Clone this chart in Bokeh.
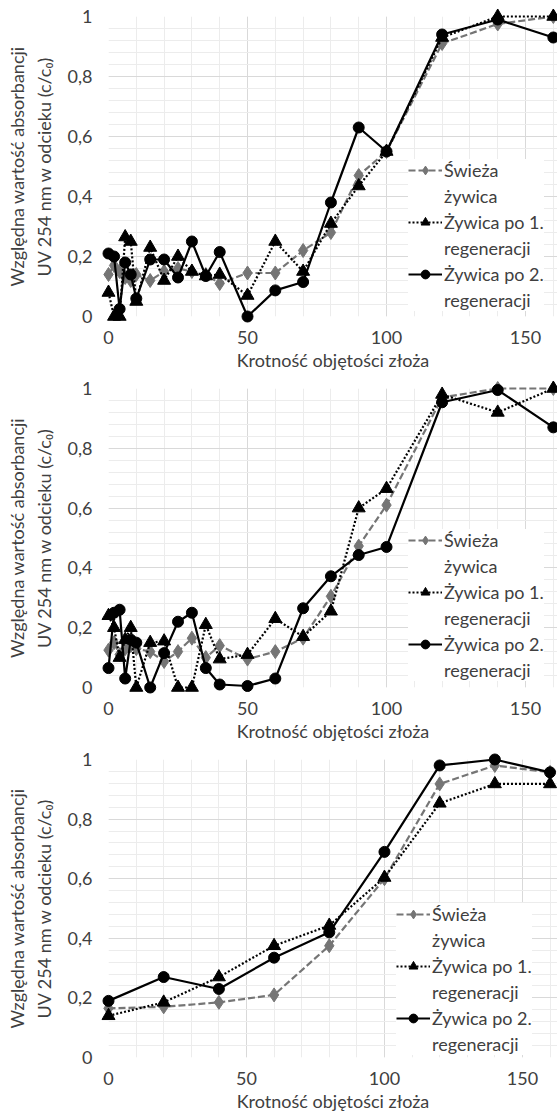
from bokeh.plotting import figure
from bokeh.layouts import column
from bokeh.models import (Range1d, FixedTicker, CustomJSTickFormatter, Legend, LegendItem)
from bokeh.embed import file_html
from bokeh.resources import INLINE

# ---------------- data ----------------
x_runs = [0, 2, 4, 6, 8, 10, 15, 20, 25, 30, 35, 40, 50, 60, 70, 80, 90, 100, 120, 140, 160]

fresh_1 = [0.14, 0.17, 0.15, 0.13, 0.12, 0.14, 0.12, 0.15, 0.16, 0.15, 0.14, 0.11, 0.145, 0.145, 0.22, 0.28, 0.47, 0.55, 0.91, 0.975, 1.0]
regen1_1 = [0.08, 0.0, 0.0, 0.265, 0.25, 0.05, 0.23, 0.12, 0.20, 0.15, 0.135, 0.14, 0.07, 0.25, 0.15, 0.31, 0.435, 0.55, 0.93, 1.0, 1.0]
regen2_1 = [0.21, 0.20, 0.025, 0.18, 0.14, 0.06, 0.19, 0.19, 0.13, 0.25, 0.135, 0.215, 0.0, 0.087, 0.115, 0.38, 0.63, 0.55, 0.94, 0.99, 0.93]

fresh_2 = [0.125, 0.15, 0.11, 0.13, 0.14, 0.13, 0.12, 0.087, 0.12, 0.165, 0.10, 0.14, 0.095, 0.12, 0.165, 0.305, 0.473, 0.61, 0.97, 1.0, 1.0]
regen1_2 = [0.24, 0.20, 0.10, 0.16, 0.20, 0.0, 0.15, 0.155, 0.0, 0.0, 0.21, 0.095, 0.11, 0.23, 0.17, 0.255, 0.60, 0.665, 0.98, 0.92, 1.0]
regen2_2 = [0.065, 0.25, 0.26, 0.03, 0.16, 0.15, 0.0, 0.115, 0.22, 0.25, 0.065, 0.01, 0.005, 0.03, 0.265, 0.372, 0.443, 0.47, 0.954, 0.995, 0.87]

x_runs_3 = [0, 20, 40, 60, 80, 100, 120, 140, 160]
fresh_3 = [0.165, 0.17, 0.185, 0.21, 0.375, 0.60, 0.918, 0.98, 0.957]
regen1_3 = [0.14, 0.185, 0.27, 0.375, 0.443, 0.604, 0.853, 0.918, 0.918]
regen2_3 = [0.19, 0.27, 0.23, 0.335, 0.42, 0.69, 0.98, 1.0, 0.957]

x_ticks = [0, 50, 100, 150]
x_minor = [0, 10, 20, 30, 40, 50, 60, 70, 80, 90, 100, 110, 120, 130, 140, 150, 160]
y_ticks = [0, 0.2, 0.4, 0.6, 0.8, 1.0]
y_minor = [0, 0.04, 0.08, 0.12, 0.16, 0.2, 0.24, 0.28, 0.32, 0.36, 0.4, 0.44, 0.48, 0.52,
           0.56, 0.6, 0.64, 0.68, 0.72, 0.76, 0.8, 0.84, 0.88, 0.92, 0.96, 1.0]

legend_lines = [("Świeża", "żywica"), ("Żywica po 1.", "regeneracji"), ("Żywica po 2.", "regeneracji")]
x_title = "Krotność objętości złoża"
y_title = "Względna wartość absorbancji\nUV 254 nm w odcieku (c/c₀)"

FONT = "Lato"
FS = "18px"
TXT = "#404040"
GRAY = "#757575"


def make_panel(xs, fresh, r1, r2, height, top, left, x_end, frame_h, legend_loc):
    p = figure(width=557, height=height, output_backend="svg", toolbar_location=None,
               x_range=Range1d(0, x_end), y_range=Range1d(0, 1),
               min_border_left=left, min_border_right=0, min_border_top=top,
               min_border_bottom=height - top - frame_h)
    p.outline_line_color = None
    p.background_fill_color = "white"

    xt = FixedTicker(ticks=x_ticks, minor_ticks=x_minor)
    yt = FixedTicker(ticks=y_ticks, minor_ticks=y_minor)
    p.xaxis.ticker = xt
    p.yaxis.ticker = yt
    p.xgrid.ticker = xt
    p.ygrid.ticker = yt
    p.xgrid.grid_line_color = "#d9d9d9"
    p.ygrid.grid_line_color = "#d9d9d9"
    p.xgrid.minor_grid_line_color = "#ececec"
    p.ygrid.minor_grid_line_color = "#ececec"

    p.yaxis.formatter = CustomJSTickFormatter(code="""
        if (Math.abs(tick - Math.round(tick)) < 1e-9) { return String(Math.round(tick)); }
        return tick.toFixed(1).replace('.', ',');
    """)

    for ax in (p.xaxis, p.yaxis):
        ax.axis_line_color = None
        ax.major_tick_line_color = None
        ax.minor_tick_line_color = None
        ax.major_tick_out = 0
        ax.major_tick_in = 0
        ax.minor_tick_out = 0
        ax.major_label_text_font = FONT
        ax.major_label_text_font_size = FS
        ax.major_label_text_color = TXT
        ax.axis_label_text_font = FONT
        ax.axis_label_text_font_size = FS
        ax.axis_label_text_font_style = "normal"
        ax.axis_label_text_color = TXT
    p.xaxis.axis_label = x_title
    p.yaxis.axis_label = y_title
    p.xaxis.major_label_standoff = 14
    p.xaxis.axis_label_standoff = 2
    p.yaxis.major_label_standoff = 16
    p.yaxis.axis_label_standoff = 10

    l1 = p.line(xs, fresh, line_color=GRAY, line_width=2.2, line_dash="7 3", level="overlay")
    s1 = p.scatter(xs, fresh, marker="diamond", size=14, fill_color=GRAY, line_color=GRAY, level="overlay")
    l2 = p.line(xs, r1, line_color="black", line_width=2.2, line_dash="2 2", level="overlay")
    s2 = p.scatter(xs, r1, marker="triangle", size=13, fill_color="black", line_color="black", level="overlay")
    l3 = p.line(xs, r2, line_color="black", line_width=2.2, level="overlay")
    s3 = p.scatter(xs, r2, marker="circle", size=11, fill_color="black", line_color="black", level="overlay")
    blank = p.line([], [], line_alpha=0)

    pairs = [(l1, s1), (l2, s2), (l3, s3)]
    items = []
    for (first, second), (ln, sc) in zip(legend_lines, pairs):
        items.append(LegendItem(label=first, renderers=[ln, sc]))
        items.append(LegendItem(label=second, renderers=[blank]))

    legend = Legend(items=items, location=legend_loc)
    legend.label_text_font = FONT
    legend.label_text_font_size = FS
    legend.label_text_color = TXT
    legend.glyph_width = 34
    legend.glyph_height = 22
    legend.label_height = 22
    legend.label_standoff = 2
    legend.spacing = 4
    legend.padding = 4
    legend.margin = 0
    legend.border_line_color = None
    legend.background_fill_color = "white"
    legend.background_fill_alpha = 1.0
    legend.inactive_fill_alpha = 0.0
    p.add_layout(legend, "center")
    return p


p1 = make_panel(x_runs, fresh_1, regen1_1, regen2_1, 378, 16, 105, 161.5, 300, (300, 5))
p2 = make_panel(x_runs, fresh_2, regen1_2, regen2_2, 366, 10, 105, 161.5, 300, (300, 6))
p3 = make_panel(x_runs_3, fresh_3, regen1_3, regen2_3, 374, 15, 108, 162.7, 298, (288, 2))

layout = column(p1, p2, p3, spacing=0)
open("out.html", "w").write(file_html(layout, INLINE))
